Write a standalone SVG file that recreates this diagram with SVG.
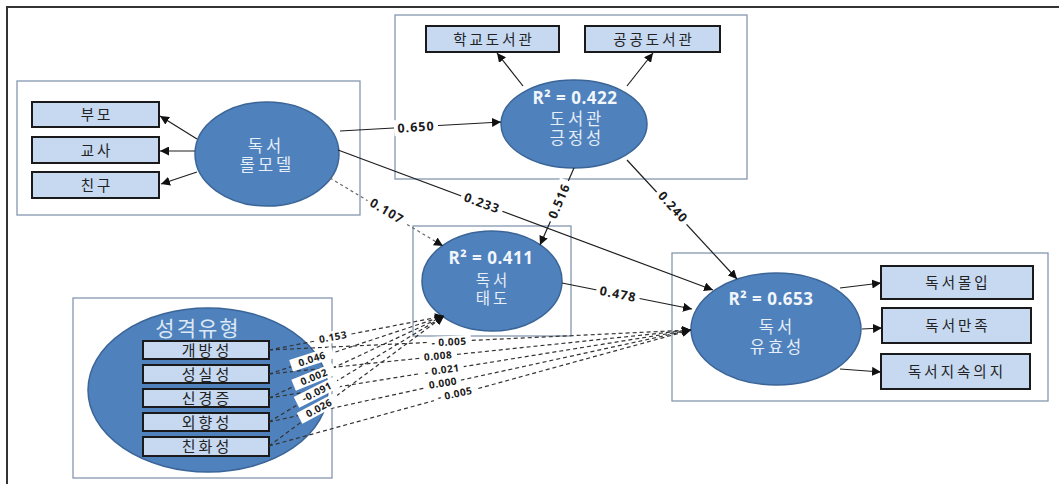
<svg xmlns="http://www.w3.org/2000/svg" width="1059" height="484" viewBox="0 0 1059 484">
<style>
.frame{fill:#ffffff;stroke:#8497b0;stroke-width:1.3}
.lv{fill:#4f81bd;stroke:#3b6597;stroke-width:1.5}
.ind{fill:#c6d9f1;stroke:#1a1a1a;stroke-width:2}
.it{font-family:"Noto Sans CJK KR","Noto Sans",sans-serif;font-size:14.5px;letter-spacing:3px;fill:#222;text-anchor:middle}
.pt{font-family:"Noto Sans CJK KR","Noto Sans",sans-serif;font-size:15px;letter-spacing:3px;fill:#222;text-anchor:middle}
.lt{font-family:"Liberation Sans","Noto Sans CJK KR",sans-serif;font-size:16.5px;letter-spacing:3px;fill:#e6eef8;text-anchor:middle}
.r2{font-family:"Open Sans","Liberation Sans",sans-serif;font-size:17px;font-weight:bold;letter-spacing:0.5px;fill:#f2f6fb;text-anchor:middle}
.arr{fill:none;stroke:#1e1e1e;stroke-width:1.2}
.dash{fill:none;stroke:#333;stroke-width:1.2;stroke-dasharray:4 3}
.dash2{fill:none;stroke:#666;stroke-width:1.2;stroke-dasharray:3 3}
.lab{font-family:"Open Sans","Liberation Sans",sans-serif;font-size:12.5px;font-weight:bold;letter-spacing:1px;fill:#1a1a1a;text-anchor:middle}
.labs{font-family:"Open Sans","Liberation Sans",sans-serif;font-size:10px;font-weight:bold;letter-spacing:0.5px;fill:#1a1a1a;text-anchor:middle}
.bg{fill:#ffffff}
</style>
<defs>
<marker id="ah" viewBox="0 0 10 10" refX="10" refY="5" markerWidth="9" markerHeight="9" markerUnits="userSpaceOnUse" orient="auto">
<path d="M0,0 L10,5 L0,10 z" fill="#111"/>
</marker>
</defs>
<rect x="0" y="0" width="1059" height="484" fill="#ffffff"/>
<path d="M7,484 L7,7 L1059,7" fill="none" stroke="#333" stroke-width="2"/>

<!-- group frames -->
<rect class="frame" x="17" y="81" width="343" height="134"/>
<rect class="frame" x="395" y="15" width="352" height="164"/>
<rect class="frame" x="413" y="226" width="158" height="110"/>
<rect class="frame" x="672" y="253" width="376" height="148"/>
<rect class="frame" x="73" y="298" width="259" height="180"/>

<g id="role-model">
<ellipse class="lv" cx="267" cy="154" rx="72" ry="52"/>
<text class="lt" x="266" y="152">독서</text>
<text class="lt" x="267" y="171">롤모델</text>
</g>
<g id="parents"><rect class="ind" x="32" y="102" width="127" height="25"/><text class="it" x="97" y="120">부모</text></g>
<g id="teacher"><rect class="ind" x="32" y="137" width="127" height="26"/><text class="it" x="97" y="156">교사</text></g>
<g id="friend"><rect class="ind" x="32" y="172" width="127" height="26"/><text class="it" x="97" y="191">친구</text></g>

<g id="library">
<ellipse class="lv" cx="574" cy="124" rx="73" ry="44"/>
<text class="r2" x="575" y="103.5">R² = 0.422</text>
<text class="lt" x="577" y="124.5">도서관</text>
<text class="lt" x="577" y="143.5">긍정성</text>
</g>
<g id="school-lib"><rect class="ind" x="426" y="26" width="133" height="26"/><text class="it" x="494" y="45">학교도서관</text></g>
<g id="public-lib"><rect class="ind" x="585" y="26" width="135" height="26"/><text class="it" x="654" y="45">공공도서관</text></g>

<g id="attitude">
<ellipse class="lv" cx="492" cy="281" rx="70" ry="50"/>
<text class="r2" x="491" y="263.5">R² = 0.411</text>
<text class="lt" x="493" y="286" style="font-size:15.5px">독서</text>
<text class="lt" x="493" y="303.5" style="font-size:15.5px">태도</text>
</g>

<g id="effectiveness">
<ellipse class="lv" cx="776" cy="329" rx="85" ry="56"/>
<text class="r2" x="771" y="304.5">R² = 0.653</text>
<text class="lt" x="777" y="332.5">독서</text>
<text class="lt" x="777" y="352.5">유효성</text>
</g>
<g id="immersion"><rect class="ind" x="881" y="266" width="152" height="33"/><text class="it" x="958" y="288">독서몰입</text></g>
<g id="satisfaction"><rect class="ind" x="882" y="308" width="149" height="35"/><text class="it" x="958" y="331">독서만족</text></g>
<g id="continuance"><rect class="ind" x="881" y="354" width="149" height="35"/><text class="it" x="957" y="377">독서지속의지</text></g>

<g id="personality">
<ellipse class="lv" cx="208" cy="390" rx="120" ry="82"/>
<text x="198" y="336" font-family="'Liberation Sans','Noto Sans CJK KR',sans-serif" font-size="21" letter-spacing="2" fill="#dde8f5" text-anchor="middle">성격유형</text>
</g>
<g id="openness"><rect class="ind" x="143" y="341" width="126" height="18"/><text class="pt" x="207" y="355.5">개방성</text></g>
<g id="conscientiousness"><rect class="ind" x="143" y="365" width="126" height="18"/><text class="pt" x="207" y="379.5">성실성</text></g>
<g id="neuroticism"><rect class="ind" x="143" y="389" width="126" height="18"/><text class="pt" x="207" y="403.5">신경증</text></g>
<g id="extraversion"><rect class="ind" x="143" y="413" width="126" height="18"/><text class="pt" x="207" y="427.5">외향성</text></g>
<g id="agreeableness"><rect class="ind" x="143" y="437" width="126" height="19"/><text class="pt" x="207" y="451.5">친화성</text></g>

<g id="connectors">
<!-- indicator arrows -->
<line class="arr" x1="197" y1="139" x2="160" y2="116" marker-end="url(#ah)"/>
<line class="arr" x1="195" y1="151" x2="160" y2="151" marker-end="url(#ah)"/>
<line class="arr" x1="197" y1="172" x2="161" y2="184" marker-end="url(#ah)"/>
<line class="arr" x1="523" y1="86" x2="497" y2="53" marker-end="url(#ah)"/>
<line class="arr" x1="627" y1="86" x2="653" y2="53" marker-end="url(#ah)"/>
<line class="arr" x1="840" y1="288" x2="881" y2="283" marker-end="url(#ah)"/>
<line class="arr" x1="862" y1="329" x2="882" y2="328" marker-end="url(#ah)"/>
<line class="arr" x1="840" y1="369" x2="881" y2="372" marker-end="url(#ah)"/>
<!-- structural paths -->
<line class="arr" x1="340" y1="131" x2="501" y2="122" marker-end="url(#ah)"/>
<line class="arr" x1="338" y1="150" x2="713" y2="290" marker-end="url(#ah)"/>
<line class="dash2" x1="330" y1="178" x2="443" y2="246" marker-end="url(#ah)"/>
<line class="arr" x1="574" y1="168" x2="540" y2="245" marker-end="url(#ah)"/>
<line class="arr" x1="627" y1="160" x2="737" y2="279" marker-end="url(#ah)"/>
<line class="arr" x1="562" y1="283" x2="692" y2="309" marker-end="url(#ah)"/>
<!-- personality to attitude -->
<line class="dash" x1="269" y1="350" x2="444" y2="316" marker-end="url(#ah)"/>
<line class="dash" x1="269" y1="374" x2="444" y2="316" marker-end="url(#ah)"/>
<line class="dash" x1="269" y1="398" x2="444" y2="316" marker-end="url(#ah)"/>
<line class="dash" x1="269" y1="422" x2="444" y2="316" marker-end="url(#ah)"/>
<line class="dash" x1="269" y1="446" x2="444" y2="316" marker-end="url(#ah)"/>
<!-- personality to effectiveness -->
<line class="dash" x1="269" y1="350" x2="691" y2="330" marker-end="url(#ah)"/>
<line class="dash" x1="269" y1="374" x2="691" y2="330" marker-end="url(#ah)"/>
<line class="dash" x1="269" y1="398" x2="691" y2="330" marker-end="url(#ah)"/>
<line class="dash" x1="269" y1="422" x2="691" y2="330" marker-end="url(#ah)"/>
<line class="dash" x1="269" y1="446" x2="691" y2="330" marker-end="url(#ah)"/>
<!-- labels -->
<g transform="translate(416,127) rotate(-3.5)"><rect class="bg" x="-22" y="-8" width="44" height="16"/><text class="lab" x="0" y="4.5">0.650</text></g>
<g transform="translate(482,203) rotate(20.5)"><rect class="bg" x="-22" y="-8" width="44" height="16"/><text class="lab" x="0" y="4.5">0.233</text></g>
<g transform="translate(387,211) rotate(31)"><rect class="bg" x="-22" y="-8" width="44" height="16"/><text class="lab" x="0" y="4.5">0.107</text></g>
<g transform="translate(559,201) rotate(-67)"><rect class="bg" x="-22" y="-8" width="44" height="16"/><text class="lab" x="0" y="4.5">0.516</text></g>
<g transform="translate(673,207) rotate(48)"><rect class="bg" x="-22" y="-8" width="44" height="16"/><text class="lab" x="0" y="4.5">0.240</text></g>
<g transform="translate(618,294) rotate(11)"><rect class="bg" x="-22" y="-8" width="44" height="16"/><text class="lab" x="0" y="4.5">0.478</text></g>

<g transform="translate(333,337) rotate(-10)"><rect class="bg" x="-18" y="-6" width="36" height="12"/><text class="labs" x="0" y="3.5">0.153</text></g>
<g transform="translate(312,359) rotate(-18)"><rect class="bg" x="-22" y="-6" width="44" height="12"/><text class="labs" x="0" y="3.5">0.046</text></g>
<g transform="translate(314,377) rotate(-22)"><rect class="bg" x="-22" y="-6" width="44" height="12"/><text class="labs" x="0" y="3.5">0.002</text></g>
<g transform="translate(317,392) rotate(-27)"><rect class="bg" x="-23" y="-6" width="46" height="12"/><text class="labs" x="0" y="3.5">-0.091</text></g>
<g transform="translate(319,408) rotate(-28)"><rect class="bg" x="-22" y="-6" width="44" height="12"/><text class="labs" x="0" y="3.5">0.026</text></g>

<g transform="translate(449,342) rotate(-3)"><rect class="bg" x="-22" y="-6" width="44" height="12"/><text class="labs" x="0" y="3.5">- 0.005</text></g>
<g transform="translate(438,356) rotate(-5)"><rect class="bg" x="-18" y="-6" width="36" height="12"/><text class="labs" x="0" y="3.5">0.008</text></g>
<g transform="translate(442,370) rotate(-8)"><rect class="bg" x="-22" y="-6" width="44" height="12"/><text class="labs" x="0" y="3.5">- 0.021</text></g>
<g transform="translate(443,383) rotate(-9)"><rect class="bg" x="-18" y="-6" width="36" height="12"/><text class="labs" x="0" y="3.5">0.000</text></g>
<g transform="translate(455,394) rotate(-12)"><rect class="bg" x="-22" y="-6" width="44" height="12"/><text class="labs" x="0" y="3.5">- 0.005</text></g>
</g>
</svg>
